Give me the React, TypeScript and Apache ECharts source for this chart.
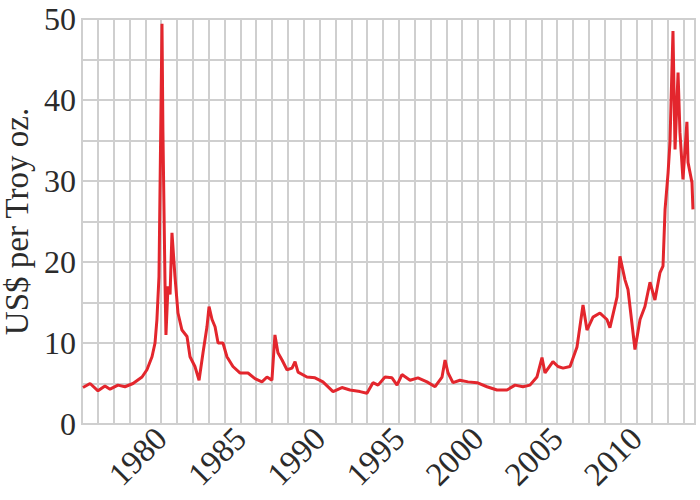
import React, { useEffect, useRef } from "react";
import * as echarts from "echarts";

const years: number[] = [
  1975.06, 1975.51, 1976.01, 1976.45, 1976.77, 1977.27, 1977.71, 1978.22, 1978.79, 1979.1,
  1979.42, 1979.61, 1979.73, 1979.86, 1980.05, 1980.11, 1980.24, 1980.3, 1980.43, 1980.56,
  1980.68, 1980.87, 1981.06, 1981.31, 1981.63, 1981.82, 1982.13, 1982.39, 1982.64, 1982.89,
  1983.02, 1983.21, 1983.4, 1983.59, 1983.9, 1984.15, 1984.53, 1984.97, 1985.48, 1985.92,
  1986.36, 1986.68, 1986.99, 1987.18, 1987.37, 1987.63, 1987.94, 1988.26, 1988.45, 1988.64,
  1989.2, 1989.71, 1990.21, 1990.85, 1991.41, 1991.92, 1992.55, 1992.99, 1993.37, 1993.69,
  1994.13, 1994.57, 1994.89, 1995.2, 1995.71, 1996.21, 1996.78, 1997.29, 1997.73, 1997.92,
  1998.11, 1998.42, 1998.86, 1999.37, 1999.94, 2000.57, 2001.2, 2001.83, 2002.34, 2002.84,
  2003.28, 2003.72, 2004.04, 2004.23, 2004.73, 2005.05, 2005.37, 2005.81, 2006.25, 2006.63,
  2006.88, 2007.26, 2007.7, 2008.14, 2008.33, 2008.78, 2008.96, 2009.28, 2009.47, 2009.91,
  2010.23, 2010.54, 2010.86, 2011.17, 2011.49, 2011.68, 2011.81, 2012.0, 2012.12, 2012.31,
  2012.44, 2012.63, 2012.75, 2012.94, 2013.19, 2013.26, 2013.51, 2013.57,
];

const prices: number[] = [
  4.5, 5.0, 4.1, 4.7, 4.3, 4.8, 4.6, 5.0, 5.8, 6.7,
  8.3, 10.0, 12.9, 18.2, 49.4, 36.0, 17.5, 11.0, 17.0, 16.0,
  23.6, 18.2, 13.7, 11.6, 10.8, 8.3, 7.1, 5.4, 8.8, 12.0,
  14.5, 12.9, 12.0, 10.0, 10.0, 8.3, 7.1, 6.3, 6.3, 5.6,
  5.2, 5.8, 5.4, 11.0, 8.8, 7.9, 6.7, 6.9, 7.7, 6.4,
  5.8, 5.7, 5.2, 4.0, 4.5, 4.2, 4.0, 3.8, 5.1, 4.8,
  5.8, 5.7, 4.8, 6.1, 5.4, 5.7, 5.2, 4.6, 5.8, 7.9,
  6.3, 5.1, 5.4, 5.2, 5.1, 4.6, 4.2, 4.2, 4.8, 4.6,
  4.8, 5.8, 8.2, 6.3, 7.7, 7.1, 6.9, 7.1, 9.5, 14.7,
  11.6, 13.2, 13.7, 12.9, 11.9, 15.7, 20.7, 17.8, 16.6, 9.2,
  12.9, 14.5, 17.5, 15.3, 18.7, 19.5, 26.5, 31.0, 34.8, 48.5,
  33.9, 43.4, 36.0, 30.2, 37.3, 32.3, 29.8, 26.5,
];

const xLabelYears: number[] = [1980, 1985, 1990, 1995, 2000, 2005, 2010];
const yLabelValues: number[] = [0, 10, 20, 30, 40, 50];
const yAxisTitle = "US$ per Troy oz.";

export default function App() {
  const ref = useRef<HTMLDivElement>(null);
  useEffect(() => {
    if (!ref.current) return;
    const chart = echarts.init(ref.current, undefined, { renderer: "svg" });
    const font = "'Liberation Serif', 'Times New Roman', serif";
    chart.setOption({
      animation: false,
      grid: {
        left: 82,
        right: 5,
        top: 19,
        bottom: 76,
        containLabel: false,
        outerBoundsMode: "none",
        show: true,
        borderColor: "#cfcfcf",
        borderWidth: 2,
      },
      xAxis: {
        type: "value",
        min: 1975,
        max: 2013.7,
        interval: 1,
        axisLine: { show: true, lineStyle: { color: "#cfcfcf", width: 2 } },
        axisTick: { show: false },
        splitLine: { show: true, lineStyle: { color: "#cfcfcf", width: 2 } },
        axisLabel: {
          rotate: 45,
          margin: 9,
          fontFamily: font,
          fontSize: 33,
          color: "#2b2b2b",
          showMinLabel: false,
          showMaxLabel: false,
          formatter: (v: number) => (xLabelYears.indexOf(v) >= 0 ? String(v) : ""),
        },
      },
      yAxis: {
        type: "value",
        min: 0,
        max: 50,
        interval: 5,
        name: yAxisTitle,
        nameLocation: "middle",
        nameGap: 44,
        nameTextStyle: { fontFamily: font, fontSize: 33, lineHeight: 33, color: "#2b2b2b" },
        axisLine: { show: true, lineStyle: { color: "#cfcfcf", width: 2 } },
        axisTick: { show: false },
        splitLine: { show: true, lineStyle: { color: "#cfcfcf", width: 2 } },
        axisLabel: {
          margin: 6,
          fontFamily: font,
          fontSize: 32,
          color: "#2b2b2b",
          formatter: (v: number) => (yLabelValues.indexOf(v) >= 0 ? String(v) : ""),
        },
      },
      series: [
        {
          type: "line",
          data: years.map((y, i) => [y, prices[i]]),
          showSymbol: false,
          lineStyle: { color: "#e3262d", width: 3 },
          itemStyle: { color: "#e3262d" },
        },
      ],
    });
    return () => chart.dispose();
  }, []);
  return <div ref={ref} style={{ width: 700, height: 500, position: "absolute", left: 0, top: 0 }} />;
}
